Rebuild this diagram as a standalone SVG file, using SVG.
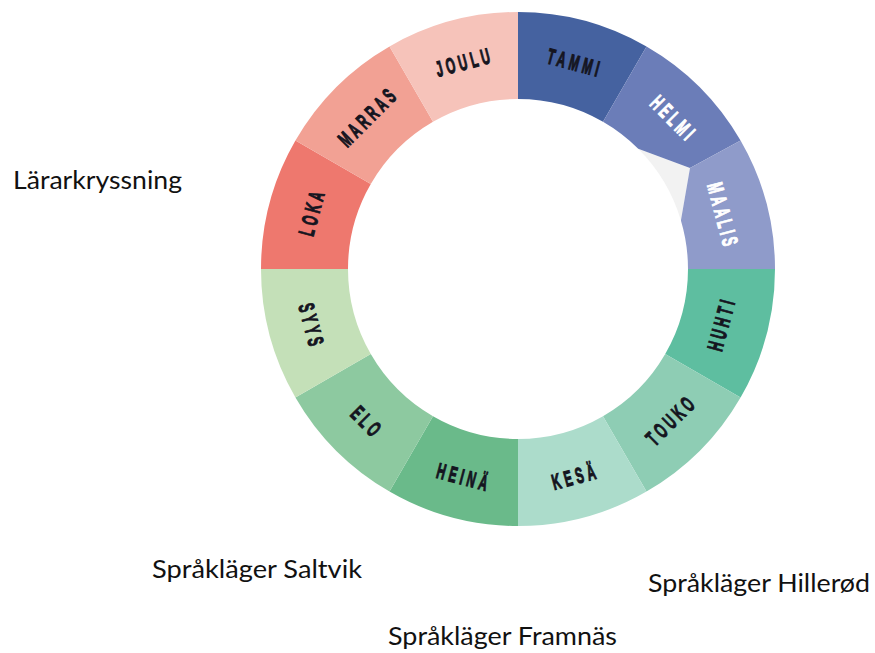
<svg xmlns="http://www.w3.org/2000/svg" width="875" height="653" viewBox="0 0 875 653">
<style>
.m{font-family:"Liberation Sans",Arial,sans-serif;font-weight:bold;font-size:22px;letter-spacing:7px;text-anchor:middle;fill:#15151f;stroke:#15151f;stroke-width:1.1px}
.w{fill:#ffffff;stroke:#ffffff}
.lbl{font-family:Lato,"Open Sans",sans-serif;font-size:25px;fill:#111111}
</style>
<rect width="875" height="653" fill="#ffffff"/>
<g id="ring">
<path id="gap" d="M638.21,148.79 L690,168 L680.92,220.43 A170,170 0 0 0 638.21,148.79 Z" fill="#f2f2f2"/>
<g id="tammi"><path d="M518,12 A257,257 0 0 1 646.5,46.43 L603,121.78 A170,170 0 0 0 518,99 Z" fill="#4562a0"/>
<text class="m" transform="translate(573.4,62.3) rotate(15) scale(0.54,1)" x="3.5" y="7.8">TAMMI</text></g>
<g id="helmi"><path d="M646.5,46.43 A257,257 0 0 1 740.57,140.5 L690,168 L638.21,148.79 A170,170 0 0 0 603,121.78 Z" fill="#6b7db8"/>
<text class="m w" transform="translate(672.6,117.5) rotate(45) scale(0.54,1)" x="3.5" y="7.8">HELMI</text></g>
<g id="maalis"><path d="M740.57,140.5 A257,257 0 0 1 775,269 L688,269 A170,170 0 0 0 680.92,220.43 L690,168 Z" fill="#8f9bca"/>
<text class="m w" transform="translate(722.8,214.1) rotate(75) scale(0.54,1)" x="3.5" y="7.8">MAALIS</text></g>
<g id="huhti"><path d="M775,269 A257,257 0 0 1 740.57,397.5 L665.22,354 A170,170 0 0 0 688,269 Z" fill="#5ebea0"/>
<text class="m" transform="translate(720.9,325.4) rotate(-75) scale(0.54,1)" x="3.5" y="7.8">HUHTI</text></g>
<g id="touko"><path d="M740.57,397.5 A257,257 0 0 1 646.5,491.57 L603,416.22 A170,170 0 0 0 665.22,354 Z" fill="#8ecdb4"/>
<text class="m" transform="translate(670.0,421.0) rotate(-45) scale(0.54,1)" x="3.5" y="7.8">TOUKO</text></g>
<g id="kesa"><path d="M646.5,491.57 A257,257 0 0 1 518,526 L518,439 A170,170 0 0 0 603,416.22 Z" fill="#acdccb"/>
<text class="m" transform="translate(573.6,476.7) rotate(-15) scale(0.54,1)" x="3.5" y="7.8">KESÄ</text></g>
<g id="heina"><path d="M518,526 A257,257 0 0 1 389.5,491.57 L433,416.22 A170,170 0 0 0 518,439 Z" fill="#6aba8a"/>
<text class="m" transform="translate(462.4,476.7) rotate(15) scale(0.54,1)" x="3.5" y="7.8">HEINÄ</text></g>
<g id="elo"><path d="M389.5,491.57 A257,257 0 0 1 295.43,397.5 L370.78,354 A170,170 0 0 0 433,416.22 Z" fill="#8dc9a0"/>
<text class="m" transform="translate(366.0,421.0) rotate(45) scale(0.54,1)" x="3.5" y="7.8">ELO</text></g>
<g id="syys"><path d="M295.43,397.5 A257,257 0 0 1 261,269 L348,269 A170,170 0 0 0 370.78,354 Z" fill="#c4e0b8"/>
<text class="m" transform="translate(311.3,324.4) rotate(75) scale(0.54,1)" x="3.5" y="7.8">SYYS</text></g>
<g id="loka"><path d="M261,269 A257,257 0 0 1 295.43,140.5 L370.78,184 A170,170 0 0 0 348,269 Z" fill="#ee786e"/>
<text class="m" transform="translate(311.3,213.6) rotate(-75) scale(0.54,1)" x="3.5" y="7.8">LOKA</text></g>
<g id="marras"><path d="M295.43,140.5 A257,257 0 0 1 389.5,46.43 L433,121.78 A170,170 0 0 0 370.78,184 Z" fill="#f2a194"/>
<text class="m" transform="translate(366.7,117.7) rotate(-45) scale(0.54,1)" x="3.5" y="7.8">MARRAS</text></g>
<g id="joulu"><path d="M389.5,46.43 A257,257 0 0 1 518,12 L518,99 A170,170 0 0 0 433,121.78 Z" fill="#f6c3ba"/>
<text class="m" transform="translate(462.6,62.3) rotate(-15) scale(0.54,1)" x="3.5" y="7.8">JOULU</text></g>
</g>
<g id="connectors"></g>
<g id="labels">
<text id="lararkryssning" class="lbl" x="13" y="189" textLength="169" lengthAdjust="spacingAndGlyphs">Lärarkryssning</text>
<text id="saltvik" class="lbl" x="152" y="578" textLength="210" lengthAdjust="spacingAndGlyphs">Språkläger Saltvik</text>
<text id="hillerod" class="lbl" x="648" y="592" textLength="222" lengthAdjust="spacingAndGlyphs">Språkläger Hillerød</text>
<text id="framnas" class="lbl" x="388" y="645" textLength="229" lengthAdjust="spacingAndGlyphs">Språkläger Framnäs</text>
</g>
</svg>
